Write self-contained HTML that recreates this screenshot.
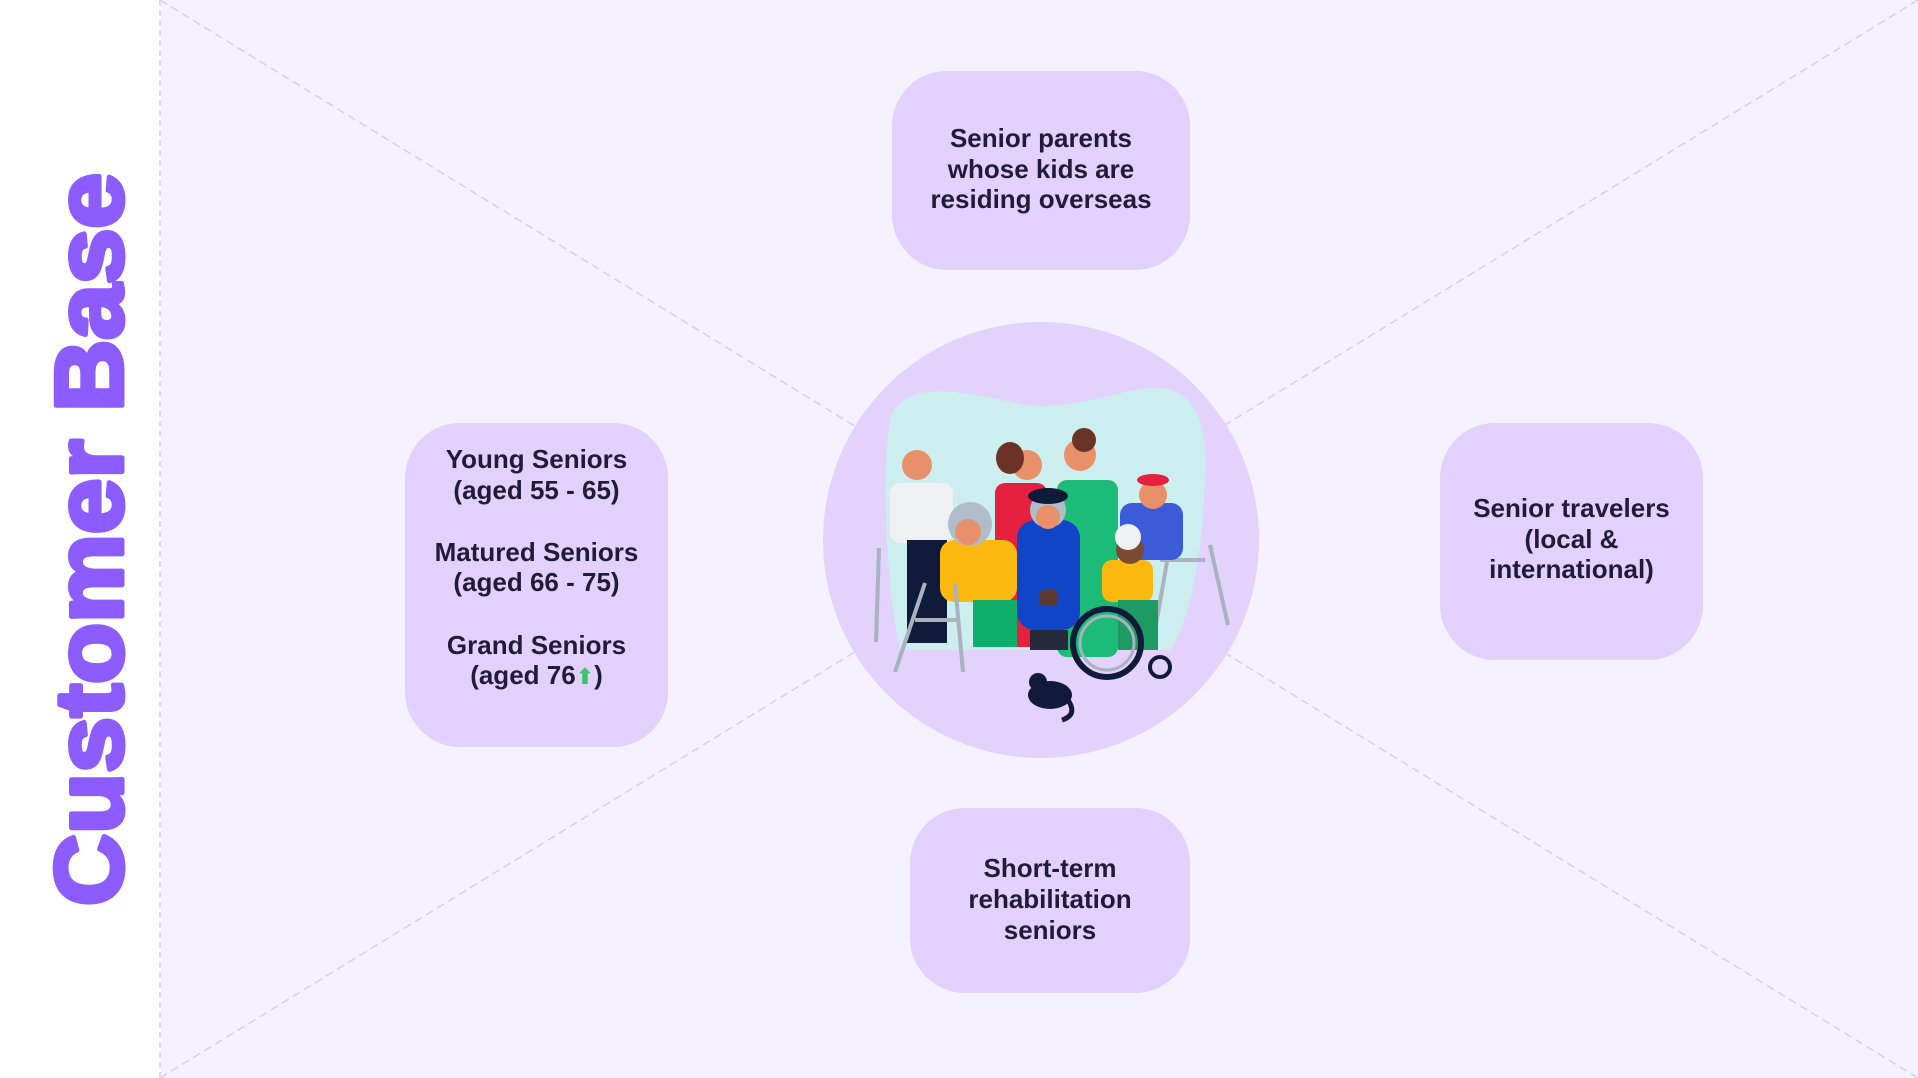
<!DOCTYPE html>
<html><head><meta charset="utf-8"><style>
html,body{margin:0;padding:0;}
body{width:1918px;height:1078px;position:relative;overflow:hidden;background:#f5f1fe;font-family:"Liberation Sans",sans-serif;}
.left{position:absolute;left:0;top:0;width:161px;height:1078px;background:#fff;border-right:2px dashed #e2d6fa;box-sizing:border-box;}
.box{position:absolute;background:#e3d1fd;border-radius:55px;color:#231a3a;font-weight:bold;font-size:26px;text-align:center;}
.box div{position:absolute;left:0;right:0;line-height:31px;}
</style></head><body>
<div class="left"></div>
<svg width="1918" height="1078" style="position:absolute;left:0;top:0">
 <line x1="160" y1="0" x2="1918" y2="1078" stroke="#d8cbf6" stroke-width="1.5" stroke-dasharray="8,5"/>
 <line x1="160" y1="1078" x2="1918" y2="0" stroke="#d8cbf6" stroke-width="1.5" stroke-dasharray="8,5"/>
 <circle cx="1041" cy="540" r="218" fill="#e2d2fc"/>
 <path d="M890,420 C900,380 960,390 1010,402 C1060,415 1110,392 1150,388 C1200,385 1208,430 1205,480 C1202,560 1190,620 1170,650 L900,650 C885,580 882,470 890,420 Z" fill="#cdeeee"/>
 <path d="M1170,545 L1155,630 M1210,545 L1228,625 M1160,560 L1205,560" stroke="#a9b3bf" stroke-width="4" fill="none"/>
 <rect x="890" y="483" width="63" height="60" rx="10" fill="#eef0f2"/>
 <rect x="907" y="540" width="40" height="103" fill="#101a3a"/>
 <circle cx="917" cy="465" r="15" fill="#e8906a"/>
 <line x1="879" y1="548" x2="876" y2="642" stroke="#a9b3bf" stroke-width="4"/>
 <rect x="995" y="483" width="52" height="164" rx="10" fill="#e5213f"/>
 <circle cx="1027" cy="465" r="15" fill="#e8906a"/>
 <ellipse cx="1010" cy="458" rx="14" ry="16" fill="#6b3328"/>
 <rect x="1057" y="480" width="61" height="177" rx="10" fill="#1cbc78"/>
 <circle cx="1080" cy="455" r="16" fill="#e8906a"/>
 <circle cx="1084" cy="440" r="12" fill="#6b3328"/>
 <rect x="1120" y="503" width="63" height="57" rx="12" fill="#3b5bd8"/>
 <circle cx="1153" cy="495" r="14" fill="#e8906a"/>
 <ellipse cx="1153" cy="480" rx="16" ry="6" fill="#e5213f"/>
 <rect x="940" y="540" width="77" height="62" rx="14" fill="#fbb90f"/>
 <rect x="973" y="600" width="44" height="47" fill="#0fae6a"/>
 <circle cx="970" cy="524" r="22" fill="#b1bccb"/>
 <circle cx="968" cy="532" r="13" fill="#e8906a"/>
 <path d="M925,583 L895,672 M955,583 L963,672 M915,620 L960,620" stroke="#a9b3bf" stroke-width="4" fill="none"/>
 <rect x="1017" y="520" width="63" height="110" rx="18" fill="#0f45c6"/>
 <rect x="1030" y="630" width="38" height="20" fill="#262a3a"/>
 <circle cx="1048" cy="510" r="18" fill="#b1bccb"/>
 <ellipse cx="1048" cy="496" rx="20" ry="8" fill="#101a3a"/>
 <circle cx="1048" cy="517" r="12" fill="#e8906a"/>
 <rect x="1040" y="590" width="18" height="16" rx="3" fill="#5a3a2e"/>
 <rect x="1102" y="560" width="51" height="42" rx="10" fill="#fbb90f"/>
 <rect x="1118" y="600" width="40" height="50" fill="#1d9b63"/>
 <circle cx="1130" cy="550" r="14" fill="#7a4a32"/>
 <circle cx="1128" cy="537" r="13" fill="#eef0f2"/>
 <circle cx="1107" cy="643" r="34" fill="none" stroke="#101a3a" stroke-width="6"/>
 <circle cx="1107" cy="643" r="27" fill="none" stroke="#a9b3bf" stroke-width="3"/>
 <circle cx="1160" cy="667" r="10" fill="none" stroke="#101a3a" stroke-width="4"/>
 <ellipse cx="1050" cy="695" rx="22" ry="14" fill="#101a3a"/>
 <circle cx="1038" cy="682" r="9" fill="#101a3a"/>
 <path d="M1068,700 Q1078,715 1062,720" stroke="#101a3a" stroke-width="5" fill="none"/>
 <text transform="translate(122,906) rotate(-90)" font-family="Liberation Sans, sans-serif" font-weight="bold" font-size="96" fill="#8c5cff" stroke="#8c5cff" stroke-width="5" stroke-linejoin="round" textLength="733" lengthAdjust="spacingAndGlyphs">Customer Base</text>
</svg>
<div class="box" style="left:892px;top:71px;width:298px;height:199px"><div style="top:52px">Senior parents</div><div style="top:83px">whose kids are</div><div style="top:113px">residing overseas</div></div>
<div class="box" style="left:405px;top:423px;width:263px;height:324px"><div style="top:21px">Young Seniors</div><div style="top:52px">(aged 55 - 65)</div><div style="top:114px">Matured Seniors</div><div style="top:144px">(aged 66 - 75)</div><div style="top:207px">Grand Seniors</div><div style="top:237px">(aged 76<span style="color:#3cc46a;font-family:'DejaVu Sans',sans-serif;font-size:22px">⬆</span>)</div></div>
<div class="box" style="left:1440px;top:423px;width:263px;height:237px"><div style="top:70px">Senior travelers</div><div style="top:101px">(local &amp;</div><div style="top:131px">international)</div></div>
<div class="box" style="left:910px;top:808px;width:280px;height:185px"><div style="top:45px">Short-term</div><div style="top:76px">rehabilitation</div><div style="top:107px">seniors</div></div>
</body></html>
